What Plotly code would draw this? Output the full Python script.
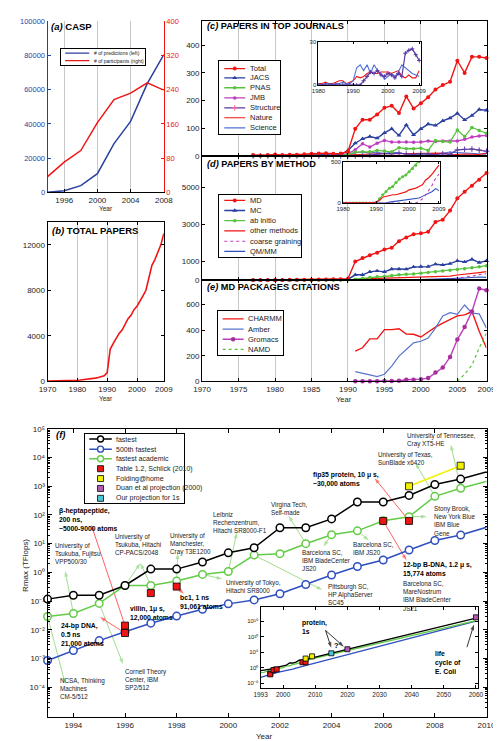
import math
import plotly.graph_objects as go

W, H = 501, 741
FONT = "Liberation Sans, Arial, Helvetica, sans-serif"

# ---------------- (a) CASP ----------------
casp_years = [1994, 1996, 1998, 2000, 2002, 2004, 2006, 2008]
casp_predictions = [100, 1000, 4000, 11000, 28500, 41500, 63500, 80500]
casp_participants = [37, 71, 98, 163, 217, 232, 256, 239]
casp_left_ticks = [0, 20000, 40000, 60000, 80000, 100000]
casp_right_ticks = [0, 80, 160, 240, 320, 400]
casp_xticks = [1996, 2000, 2004, 2008]

# ---------------- (b) total papers ----------------
total_years = list(range(1970, 2010))
total_papers = [10, 12, 15, 18, 22, 28, 35, 45, 55, 70,
                85, 100, 125, 150, 180, 220, 270, 330, 400, 480,
                750, 2800, 3300, 3800, 4200, 4500, 5000, 5500, 5800, 6300,
                6600, 7000, 7500, 8000, 9100, 10200, 10700, 11300, 12000, 13000]
total_xticks = [1970, 1980, 1990, 2000, 2009]
total_yticks = [0, 4000, 8000, 12000]

# ---------------- (c) papers in top journals ----------------
journal_years = list(range(1977, 2010))
journal_total = [3, 2, 3, 5, 3, 4, 4, 6, 8, 9, 10, 8, 9, 15,
                 98, 131, 131, 150, 174, 181, 155, 215, 171, 190, 212, 240, 256, 268, 344, 300, 358, 358, 354]
journal_jacs = [2, 1, 2, 2, 1, 2, 2, 3, 3, 4, 4, 3, 5, 20,
                46, 62, 70, 64, 83, 98, 74, 112, 76, 98, 115, 110, 127, 137, 154, 130, 146, 168, 165]
journal_pnas = [0, 0, 1, 0, 1, 1, 0, 1, 1, 2, 1, 2, 2, 5,
                14, 15, 15, 20, 18, 15, 30, 26, 26, 28, 20, 56, 52, 50, 94, 70, 103, 92, 82]
journal_jmb = [0, 1, 0, 1, 1, 0, 1, 1, 2, 1, 2, 2, 3, 8,
               22, 44, 32, 46, 56, 50, 50, 50, 49, 50, 54, 52, 54, 54, 54, 60, 68, 72, 74]
journal_structure = [0, 0, 0, 0, 0, 0, 0, 0, 0, 0, 0, 0, 0, 0,
                     0, 0, 3, 6, 9, 8, 10, 7, 6, 8, 7, 5, 8, 6, 22, 24, 25, 21, 17]
journal_nature = [1, 0, 2, 1, 1, 2, 1, 1, 2, 3, 3, 1, 2, 3,
                  6, 5, 6, 8, 9, 8, 8, 9, 9, 9, 8, 9, 10, 6, 5, 7, 5, 5, 10]
journal_science = [0, 0, 1, 0, 0, 1, 1, 0, 1, 1, 2, 1, 1, 3,
                   12, 14, 10, 14, 8, 14, 10, 8, 4, 6, 8, 6, 9, 14, 12, 10, 8, 7, 6]
journal_labels = ["Total", "JACS", "PNAS", "JMB", "Structure", "Nature", "Science"]
journal_yticks = [0, 100, 200, 300, 400]

# ---------------- (d) papers by method ----------------
method_years = list(range(1977, 2010))
method_md = [5, 8, 10, 12, 15, 18, 20, 25, 30, 35, 40, 45, 50, 80,
             1000, 1190, 1340, 1480, 1650, 1750, 2100, 2300, 2470, 2520, 2600, 3130, 3250, 3740, 4400, 4750, 5080, 5400, 5760]
method_mc = [2, 3, 4, 5, 6, 8, 10, 12, 14, 16, 18, 20, 25, 40,
             290, 290, 450, 500, 450, 600, 600, 590, 710, 730, 730, 860, 820, 890, 1040, 980, 1120, 950, 1040]
method_abinitio = [0, 0, 0, 0, 0, 0, 0, 0, 0, 0, 0, 0, 0, 5,
                   50, 100, 140, 180, 200, 250, 290, 320, 340, 380, 420, 460, 500, 530, 580, 620, 670, 720, 780]
other_years = list(range(1980, 2010))
method_other = [0, 0, 0, 1, 1, 2, 2, 3, 4, 5,
                10, 30, 70, 80, 90, 100, 100, 110, 120, 135,
                160, 170, 180, 200, 220, 280, 310, 355, 410, 460]
method_coarse = [0, 0, 0, 0, 0, 0, 0, 0, 0, 0,
                 0, 0, 0, 0, 0, 0, 0, 0, 0, 0,
                 0, 0, 0, 20, 50, 100, 160, 220, 300, 350]
method_qmmm = [0, 0, 0, 0, 0, 0, 0, 0, 0, 0,
               0, 0, 0, 0, 10, 15, 20, 25, 30, 35,
               40, 50, 55, 60, 80, 100, 120, 140, 175, 150]
method_labels = ["MD", "MC", "ab initio", "other methods", "coarse graining", "QM/MM"]
method_yticks = [0, 1000, 3000, 5000]

# ---------------- (e) MD packages citations ----------------
pkg_years = list(range(1991, 2010))
pkg_charmm = [236, 262, 331, 331, 403, 403, 410, 369, 367, 346, 385, 423, 454, 485, 510, 518, 544, 390, 260]
pkg_amber = [77, 62, 51, 38, 56, 120, 197, 249, 300, 313, 338, 415, 510, 536, 523, 595, 531, 526, 415]
pkg_gromacs = [2, 2, 2, 2, 3, 4, 5, 13, 13, 18, 26, 69, 108, 190, 326, 423, 544, 723, 710]
namd_years = [2005, 2006, 2007, 2008, 2009]
pkg_namd = [0, 56, 126, 262, 377]
pkg_labels = ["CHARMM", "Amber", "Gromacs", "NAMD"]
pkg_yticks = [0, 200, 400, 600]
cde_xticks = [1970, 1975, 1980, 1985, 1990, 1995, 2000, 2005, 2009]

# ---------------- (f) supercomputers ----------------
f_years = list(range(1993, 2010))
f_fastest = [0.117, 0.16, 0.16, 0.35, 1.3, 1.3, 2.3, 4.8, 7.2, 36, 36, 73, 284, 284, 480, 1150, 1780]
f_500th = [0.00085, 0.0019, 0.0042, 0.0085, 0.017, 0.03, 0.052, 0.08, 0.11, 0.18, 0.38, 0.81, 1.6, 2.7, 6.0, 12.9, 20]
f_academic = [0.029, 0.037, 0.083, 0.35, 0.35, 0.5, 0.85, 1.07, 4.0, 4.5, 10, 20.6, 28, 63, 87, 447, 855]
proj_years = [2009, 2060]
proj_fastest = [1780, 1.0e16]
proj_500th = [20, 1.2e15]
proj_academic = [855, 1.6e15]
schlick_years = [1996, 1996, 1997, 1998, 2006, 2007]
schlick_vals = [0.014, 0.0077, 0.19, 0.32, 62, 62]
fah_years = [2007, 2009]
fah_vals = [1000, 5200]
duan_years = [2020, 2060]
duan_vals = [1.0e6, 2.0e16]
ours_years = [2015]
ours_vals = [5.0e4]
f_xticks = [1994, 1996, 1998, 2000, 2002, 2004, 2006, 2008, 2010]
f_ytick_vals = [1e-4, 1e-3, 1e-2, 1e-1, 1, 10, 100, 1e3, 1e4, 1e5]
f_ytick_text = ["10\u207b\u2074", "10\u207b\u00b3", "10\u207b\u00b2", "10\u207b\u00b9", "10\u2070",
                "10\u00b9", "10\u00b2", "10\u00b3", "10\u2074", "10\u2075"]
inset_xticks = [1993, 2000, 2010, 2020, 2030, 2040, 2050, 2060]
inset_ytick_vals = [1e-5, 1, 1e5, 1e10, 1e15]
inset_ytick_text = ["10\u207b\u2075", "10\u2070", "10\u2075", "10\u00b9\u2070", "10\u00b9\u2075"]
f_labels = ["fastest", "500th fastest", "fastest academic", "Table 1.2, Schlick (2010)",
            "Folding@home", "Duan et al projection (2000)", "Our projection for 1s"]

# ---------------- colours ----------------
RED = "#f01515"
BLUE = "#2b3f9f"
GREEN = "#58c23c"
MAGENTA = "#c03cbf"
PURPLE = "#5a3aa5"
SCI = "#5070d8"
AMBER = "#5a74cc"
F_BLUE = "#2f4fbf"
F_GREEN = "#62cc46"
YELLOW = "#f2f200"
CYAN = "#4cc6d6"
DUAN = "#b65cb0"
GRID = "#c8c8c8"
ARROW_G = "#86d670"
ARROW_R = "#ff3a3a"
TXT = "#222222"


def xd(a, b):
    return [a / W, b / W]


def yd(top, bottom):
    return [1 - bottom / H, 1 - top / H]


def PX(x):
    return x / W


def PY(y):
    return 1 - y / H


fig = go.Figure()
ann = []


def sc(x, y, xa, ya, clip=False, **kw):
    fig.add_trace(go.Scatter(x=x, y=y, xaxis=xa, yaxis=ya, showlegend=False,
                             hoverinfo="skip", cliponaxis=clip, **kw))


def axis(**kw):
    d = dict(showline=True, linecolor="black", linewidth=1, mirror="ticks",
             ticks="inside", ticklen=3, tickwidth=1, tickcolor="black",
             tickfont=dict(size=8, family=FONT, color=TXT),
             showgrid=False, zeroline=False, fixedrange=True)
    d.update(kw)
    return d


def leg_axis(dom, rng):
    return dict(domain=dom, range=rng, showline=True, mirror=True, linecolor="black",
                linewidth=1, ticks="", showticklabels=False, showgrid=False,
                zeroline=False, fixedrange=True)


# ---------------- traces: (a) ----------------
sc(casp_years, casp_predictions, "x", "y", mode="lines", line=dict(color=BLUE, width=1.5))
sc(casp_years, casp_participants, "x", "y2", mode="lines", line=dict(color=RED, width=1.5))

# ---------------- (b) ----------------
sc(total_years, total_papers, "x3", "y3", mode="lines", line=dict(color=RED, width=1.6))

# ---------------- (c) ----------------
sc(journal_years, journal_science, "x4", "y4", mode="lines", line=dict(color=SCI, width=1.1))
sc(journal_years, journal_nature, "x4", "y4", mode="lines", line=dict(color=RED, width=1.1))
sc(journal_years, journal_structure, "x4", "y4", mode="lines+markers", line=dict(color=PURPLE, width=1.2),
   marker=dict(symbol="cross-thin-open", size=4, line=dict(color=PURPLE, width=1)))
sc(journal_years, journal_jmb, "x4", "y4", mode="lines+markers", line=dict(color=MAGENTA, width=1.3),
   marker=dict(symbol="circle", size=3.5, color=MAGENTA))
sc(journal_years, journal_pnas, "x4", "y4", mode="lines+markers", line=dict(color=GREEN, width=1.3),
   marker=dict(symbol="circle", size=3.5, color=GREEN))
sc(journal_years, journal_jacs, "x4", "y4", mode="lines+markers", line=dict(color=BLUE, width=1.4),
   marker=dict(symbol="triangle-up", size=4.5, color=BLUE))
sc(journal_years, journal_total, "x4", "y4", mode="lines+markers", line=dict(color=RED, width=1.4),
   marker=dict(symbol="circle", size=4, color=RED))

# inset (c)
sc(journal_years, journal_nature, "x7", "y7", clip=True, mode="lines", line=dict(color=RED, width=1.1))
sc(journal_years, journal_science, "x7", "y7", clip=True, mode="lines", line=dict(color=SCI, width=1.1))
sc(journal_years, journal_structure, "x7", "y7", clip=True, mode="lines+markers", line=dict(color=PURPLE, width=1.2),
   marker=dict(symbol="cross-thin-open", size=3, line=dict(color=PURPLE, width=1)))

# ---------------- (d) ----------------
sc(other_years, method_qmmm, "x5", "y5", mode="lines", line=dict(color=F_BLUE, width=1.1))
sc(other_years, method_coarse, "x5", "y5", mode="lines", line=dict(color=MAGENTA, width=1.1, dash="dot"))
sc(other_years, method_other, "x5", "y5", mode="lines", line=dict(color=RED, width=1.2))
sc(method_years, method_abinitio, "x5", "y5", mode="lines+markers", line=dict(color=GREEN, width=1.3),
   marker=dict(symbol="circle", size=3.5, color=GREEN))
sc(method_years, method_mc, "x5", "y5", mode="lines+markers", line=dict(color=BLUE, width=1.4),
   marker=dict(symbol="triangle-up", size=4.5, color=BLUE))
sc(method_years, method_md, "x5", "y5", mode="lines+markers", line=dict(color=RED, width=1.4),
   marker=dict(symbol="circle", size=4, color=RED))

# inset (d)
sc(method_years, method_abinitio, "x8", "y8", clip=True, mode="lines+markers", line=dict(color=GREEN, width=1.2),
   marker=dict(symbol="circle", size=3, color=GREEN))
sc(other_years, method_qmmm, "x8", "y8", clip=True, mode="lines", line=dict(color=F_BLUE, width=1.1))
sc(other_years, method_coarse, "x8", "y8", clip=True, mode="lines", line=dict(color=MAGENTA, width=1.1, dash="dot"))
sc(other_years, method_other, "x8", "y8", clip=True, mode="lines", line=dict(color=RED, width=1.2))

# ---------------- (e) ----------------
sc(pkg_years, pkg_charmm, "x6", "y6", mode="lines", line=dict(color=RED, width=1.4))
sc(pkg_years, pkg_amber, "x6", "y6", mode="lines", line=dict(color=AMBER, width=1.2))
sc(namd_years, pkg_namd, "x6", "y6", mode="lines", line=dict(color=GREEN, width=1.2, dash="dot"))
sc(pkg_years, pkg_gromacs, "x6", "y6", mode="lines+markers", line=dict(color=MAGENTA, width=1.4),
   marker=dict(symbol="circle", size=4.5, color="#a8309e"))

# ---------------- (f) ----------------
F_L, F_R, F_T, F_B = 31.7, 487.0, 422.0, 714.0
F_XR = (1993, 2010)
F_YR = (-5.05, 5.0)
I_L, I_R, I_T, I_B = 252.7, 477.7, 602.7, 684.3
I_XR = (1993, 2060.5)
I_YR = (-6.5, 19.5)


def open_c(col):
    return dict(symbol="circle", size=7.5, color="white", line=dict(color=col, width=1.5))


def sq(col, s=7):
    return dict(symbol="square", size=s, color=col, line=dict(color="black", width=0.8))


# arrows (drawn below the marks): head near a label, tail on a data point
def to_data(xp, yp, L, R, T, B, XR, YR):
    return (XR[0] + (xp - L) / (R - L) * (XR[1] - XR[0]),
            10 ** (YR[1] - (yp - T) / (B - T) * (YR[1] - YR[0])))


def arrow(xa, ya, tail, head, color):
    sc([tail[0], head[0]], [tail[1], head[1]], xa, ya, clip=False, mode="lines+markers",
       line=dict(color=color, width=0.8),
       marker=dict(symbol="arrow", size=[0, 6], angleref="previous", color=color,
                   line=dict(width=0)))


green_arrows = [((50, 680), 1993), ((50, 566), 1994), ((110, 660), 1995), ((128, 558), 1996),
                ((128, 558), 1997), ((166.7, 548), 1998), ((213, 574), 1999), ((228, 527), 2000),
                ((316.7, 585), 2001), ((281.7, 510), 2003), ((318, 541), 2004), ((365, 535), 2005),
                ((425, 510.7), 2007), ((413.3, 456.7), 2008), ((450, 438), 2009)]
for head, yr in green_arrows:
    i = f_years.index(yr)
    arrow("x9", "y9", (f_years[i], f_academic[i]),
          to_data(head[0], head[1], F_L, F_R, F_T, F_B, F_XR, F_YR), ARROW_G)

red_arrows = [((77, 519), 0), ((86, 612.5), 1), ((173, 589), 3), ((371, 472), 5), ((404, 555), 4)]
for head, i in red_arrows:
    arrow("x9", "y9", (schlick_years[i], schlick_vals[i]),
          to_data(head[0], head[1], F_L, F_R, F_T, F_B, F_XR, F_YR), ARROW_R)

sc(proj_years, proj_500th, "x9", "y9", clip=True, mode="lines", line=dict(color=F_BLUE, width=1.5))
sc(proj_years, proj_academic, "x9", "y9", clip=True, mode="lines", line=dict(color=F_GREEN, width=1.5))
sc(proj_years, proj_fastest, "x9", "y9", clip=True, mode="lines", line=dict(color="black", width=1.5))
sc(f_years, f_500th, "x9", "y9", mode="lines+markers", line=dict(color=F_BLUE, width=1.5), marker=open_c(F_BLUE))
sc(f_years, f_academic, "x9", "y9", mode="lines+markers", line=dict(color=F_GREEN, width=1.5), marker=open_c(F_GREEN))
sc(f_years, f_fastest, "x9", "y9", mode="lines+markers", line=dict(color="black", width=1.5), marker=open_c("black"))
sc(fah_years, fah_vals, "x9", "y9", mode="lines+markers", line=dict(color=YELLOW, width=1.5), marker=sq(YELLOW))
sc(schlick_years, schlick_vals, "x9", "y9", mode="markers", marker=sq(RED))

# inset (f)
sc(f_years + proj_years[1:], f_500th + proj_500th[1:], "x10", "y10", clip=True, mode="lines", line=dict(color=F_BLUE, width=1.3))
sc(f_years + proj_years[1:], f_academic + proj_academic[1:], "x10", "y10", clip=True, mode="lines", line=dict(color=F_GREEN, width=1.3))
sc(f_years + proj_years[1:], f_fastest + proj_fastest[1:], "x10", "y10", clip=True, mode="lines", line=dict(color="black", width=1.3))
sc(schlick_years, schlick_vals, "x10", "y10", mode="markers", marker=sq(RED, 5))
sc(fah_years, fah_vals, "x10", "y10", mode="markers", marker=sq(YELLOW, 5))
inset_arrows = [((320, 626), (326, 643.5)), ((320, 626), (339, 642.5)), ((466.7, 643), (474, 620))]
for tail, head in inset_arrows:
    arrow("x10", "y10", to_data(tail[0], tail[1], I_L, I_R, I_T, I_B, I_XR, I_YR),
          to_data(head[0], head[1], I_L, I_R, I_T, I_B, I_XR, I_YR), "black")
sc(ours_years, ours_vals, "x10", "y10", mode="markers", marker=sq(CYAN, 5))
sc(duan_years, duan_vals, "x10", "y10", mode="markers", marker=sq(DUAN, 5))


# ---------------- legends (mini boxes) ----------------
def leg_line(ax, x0, x1, y, text, color, tx, fs=7.5, width=1.3, dash="solid", marker=None):
    if color is not None:
        sc([x0, x1], [y, y], "x" + ax, "y" + ax, clip=True, mode="lines",
           line=dict(color=color, width=width, dash=dash))
    if marker is not None:
        sc([(x0 + x1) / 2], [y], "x" + ax, "y" + ax, mode="markers", marker=marker)
    ann.append(dict(xref="x" + ax, yref="y" + ax, x=tx, y=y, text=text, showarrow=False,
                    xanchor="left", yanchor="middle", font=dict(size=fs, family=FONT, color=TXT)))


# (a) legend
leg_line("11", 4.3, 29.3, 4.4, "# of predictions (left)", BLUE, 32, fs=5, width=1.2)
leg_line("11", 4.3, 29.3, 12.0, "# of participants (right)", RED, 32, fs=5, width=1.2)

# (c) legend
c_y = [7.3, 16.7, 26.7, 37.0, 47.0, 57.0, 67.3]
leg_line("12", 5, 26.7, c_y[0], journal_labels[0], RED, 30, width=1.4, marker=dict(symbol="circle", size=4, color=RED))
leg_line("12", 5, 26.7, c_y[1], journal_labels[1], BLUE, 30, width=1.4, marker=dict(symbol="triangle-up", size=4.5, color=BLUE))
leg_line("12", 5, 26.7, c_y[2], journal_labels[2], GREEN, 30, marker=dict(symbol="circle", size=3.5, color=GREEN))
leg_line("12", 5, 26.7, c_y[3], journal_labels[3], MAGENTA, 30, marker=dict(symbol="circle", size=3.5, color=MAGENTA))
leg_line("12", 5, 26.7, c_y[4], journal_labels[4], PURPLE, 30,
         marker=dict(symbol="cross-thin-open", size=4, line=dict(color=PURPLE, width=1)))
leg_line("12", 5, 26.7, c_y[5], journal_labels[5], RED, 30, width=1.1)
leg_line("12", 5, 26.7, c_y[6], journal_labels[6], SCI, 30, width=1.1)

# (d) legend
d_y = [5.7, 16.0, 26.2, 36.6, 47.0, 57.3]
leg_line("13", 5, 26.7, d_y[0], method_labels[0], RED, 30, width=1.4, marker=dict(symbol="circle", size=4, color=RED))
leg_line("13", 5, 26.7, d_y[1], method_labels[1], BLUE, 30, width=1.4, marker=dict(symbol="triangle-up", size=4.5, color=BLUE))
leg_line("13", 5, 26.7, d_y[2], method_labels[2], GREEN, 30, marker=dict(symbol="circle", size=3.5, color=GREEN))
leg_line("13", 5, 26.7, d_y[3], method_labels[3], RED, 30, width=1.2)
leg_line("13", 5, 26.7, d_y[4], method_labels[4], MAGENTA, 30, width=1.1, dash="dot")
leg_line("13", 5, 26.7, d_y[5], method_labels[5], F_BLUE, 30, width=1.1)

# (e) legend
e_y = [8.0, 18.3, 28.6, 38.9]
leg_line("14", 5, 26.7, e_y[0], pkg_labels[0], RED, 29.4, width=1.4)
leg_line("14", 5, 26.7, e_y[1], pkg_labels[1], AMBER, 29.4, width=1.2)
leg_line("14", 5, 26.7, e_y[2], pkg_labels[2], MAGENTA, 29.4, width=1.4, marker=dict(symbol="circle", size=4.5, color="#a8309e"))
leg_line("14", 5, 26.7, e_y[3], pkg_labels[3], GREEN, 29.4, width=1.2, dash="dot")

# (f) legend
f_y = [5.0, 15.2, 25.0, 35.0, 45.0, 55.0, 65.0]
leg_line("15", 4, 27.3, f_y[0], f_labels[0], "black", 30, fs=7, width=1.5, marker=dict(symbol="circle", size=6, color="white", line=dict(color="black", width=1.4)))
leg_line("15", 4, 27.3, f_y[1], f_labels[1], F_BLUE, 30, fs=7, width=1.5, marker=dict(symbol="circle", size=6, color="white", line=dict(color=F_BLUE, width=1.4)))
leg_line("15", 4, 27.3, f_y[2], f_labels[2], F_GREEN, 30, fs=7, width=1.5, marker=dict(symbol="circle", size=6, color="white", line=dict(color=F_GREEN, width=1.4)))
leg_line("15", 4, 27.3, f_y[3], f_labels[3], None, 30, fs=7, marker=sq(RED, 6))
leg_line("15", 4, 27.3, f_y[4], f_labels[4], None, 30, fs=7, marker=sq(YELLOW, 6))
leg_line("15", 4, 27.3, f_y[5], f_labels[5], None, 30, fs=7, marker=sq(DUAN, 6))
leg_line("15", 4, 27.3, f_y[6], f_labels[6], None, 30, fs=7, marker=sq(CYAN, 6))


# ---------------- text helpers ----------------
def text_px(x, y, text, size=7, color=TXT, xanchor="left", yanchor="top", angle=0):
    ann.append(dict(xref="paper", yref="paper", x=PX(x), y=PY(y), text=text, showarrow=False,
                    xanchor=xanchor, yanchor=yanchor, align="left", textangle=angle,
                    font=dict(size=size, family=FONT, color=color)))


# panel titles
text_px(33, 15, "<b><i>(a)</i> CASP</b>", size=9.5, color="black", yanchor="middle")
text_px(34, 221.5, "<b><i>(b)</i> TOTAL PAPERS</b>", size=9.5, color="black", yanchor="middle")
text_px(195, 14, "<b><i>(c)</i> PAPERS IN TOP JOURNALS</b>", size=9.2, color="black", yanchor="middle")
text_px(195, 153.5, "<b><i>(d)</i> PAPERS BY METHOD</b>", size=9.2, color="black", yanchor="middle")
text_px(195, 278.5, "<b><i>(e)</i> MD PACKAGES CITATIONS</b>", size=9.2, color="black", yanchor="middle")
text_px(38, 427.5, "<b><i>(f)</i></b>", size=9.5, color="black", yanchor="middle")

# axis titles
text_px(92, 199, "Year", size=6.5, xanchor="center", yanchor="middle")
text_px(92, 391, "Year", size=6.5, xanchor="center", yanchor="middle")
text_px(339.5, 392, "Year", size=7.5, xanchor="center", yanchor="middle")
text_px(257, 733, "Year", size=8, xanchor="center", yanchor="middle")
text_px(9, 560, "Rmax (TFlops)", size=8, xanchor="center", yanchor="middle", angle=-90)

# panel (f) labels
BOLD_FS = 6.8
REG_FS = 6.3
f_texts = [
    ("<b>β-heptapeptide,<br>200 ns,<br>~5000-9000 atoms</b>", 41.7, 499.5, BOLD_FS, "black"),
    ("University of<br>Tsukuba, Hitachi<br>CP-PACS/2048", 99.3, 525.5, REG_FS, TXT),
    ("University of<br>Manchester,<br>Cray T3E1200", 156.7, 524.5, REG_FS, TXT),
    ("Leibniz<br>Rechenzentrum,<br>Hitachi SR8000-F1", 201.7, 503, REG_FS, TXT),
    ("University of<br>Tsukuba, Fujitsu<br>VPP500/30", 37.7, 534.5, REG_FS, TXT),
    ("University of Tokyo,<br>Hitachi SR8000", 215, 571.5, REG_FS, TXT),
    ("<b>villin, 1μ s,<br>12,000 atoms</b>", 115, 598, BOLD_FS, "black"),
    ("<b>bc1, 1 ns<br>91,061 atoms</b>", 166.7, 587.5, BOLD_FS, "black"),
    ("<b>24-bp DNA,<br>0.5 ns<br>21,000 atoms</b>", 43.3, 615, BOLD_FS, "black"),
    ("NCSA, Thinking<br>Machines<br>CM-5/512", 42.3, 671, REG_FS, TXT),
    ("Cornell Theory<br>Center, IBM<br>SP2/512", 110, 662.5, REG_FS, TXT),
    ("University of Tennessee,<br>Cray XT5-HE", 402.7, 423, REG_FS, TXT),
    ("University of Texas,<br>SunBlade x6420", 372.7, 442, REG_FS, TXT),
    ("<b>fip35 protein, 10 μ s,<br>~30,000 atoms</b>", 305, 462.5, BOLD_FS, "black"),
    ("Virgina Tech,<br>Self-made", 261, 492.5, REG_FS, TXT),
    ("Stony Brook,<br>New York Blue<br>IBM Blue<br>Gene", 430, 497.5, REG_FS, TXT),
    ("Barcelona SC,<br>IBM JS20", 346.7, 533, REG_FS, TXT),
    ("Barcelona SC,<br>IBM BladeCenter<br>JS20", 293.3, 541.5, REG_FS, TXT),
    ("<b>12-bp B-DNA, 1.2 μ s,<br>15,774 atoms</b>", 398.3, 554, BOLD_FS, "black"),
    ("Barcelona SC,<br>MareNostrum<br>IBM BladeCenter<br>JS21", 398.3, 572.5, REG_FS, TXT),
    ("Pittsburgh SC,<br>HP AlphaServer<br>SC45", 321, 576, REG_FS, TXT),
    ("<b>protein,<br>1s</b>", 293.3, 612.5, BOLD_FS, "black"),
    ("<b>?</b>", 327, 634.5, 7.5, "black"),
    ("<b>life<br>cycle of<br>E. Coli</b>", 431.7, 644, BOLD_FS, "black"),
]
for t, x, y, s, c in f_texts:
    text_px(x, y, t, size=s, color=c)

# minor ticks of the log axis in (f): 2..9 x 10^k
f_minor = [m * 10.0 ** k for k in range(-6, 5) for m in range(2, 10)]

# ---------------- layout ----------------
layout = dict(
    width=W, height=H, margin=dict(l=0, r=0, t=0, b=0),
    paper_bgcolor="white", plot_bgcolor="white", showlegend=False, hovermode=False,
    font=dict(family=FONT, size=8, color=TXT),
    # (a)
    xaxis=axis(domain=xd(31.7, 152.3), range=[1994, 2008], tickvals=casp_xticks, showgrid=True,
               gridcolor=GRID, anchor="y", mirror=False),
    yaxis=axis(domain=yd(9.3, 182.7), range=[0, 100000], tickvals=casp_left_ticks, tickformat="d",
               linecolor=BLUE, tickcolor=BLUE, mirror=False, anchor="x",
               tickfont=dict(size=7.5, family=FONT, color=BLUE)),
    yaxis2=axis(overlaying="y", side="right", anchor="x", range=[0, 400], tickvals=casp_right_ticks,
                linecolor=RED, tickcolor=RED, mirror=False,
                tickfont=dict(size=7.5, family=FONT, color=RED)),
    # (b)
    xaxis3=axis(domain=xd(31.7, 152.3), range=[1970, 2009], tickvals=total_xticks, showgrid=True,
                gridcolor=GRID, anchor="y3"),
    yaxis3=axis(domain=yd(212.7, 373.7), range=[0, 14000], tickvals=total_yticks, tickformat="d",
                anchor="x3"),
    # (c)
    xaxis4=axis(domain=xd(192, 487), range=[1970, 2009], tickvals=cde_xticks, showticklabels=False,
                showgrid=True, gridcolor=GRID, anchor="y4"),
    yaxis4=axis(domain=yd(9, 145.7), range=[0, 488], tickvals=journal_yticks, anchor="x4"),
    # (d)
    xaxis5=axis(domain=xd(192, 487), range=[1970, 2009], tickvals=cde_xticks, showticklabels=False,
                showgrid=True, gridcolor=GRID, anchor="y5"),
    yaxis5=axis(domain=yd(145.7, 271.5), range=[0, 6680], tickvals=method_yticks, anchor="x5"),
    # (e)
    xaxis6=axis(domain=xd(192, 487), range=[1970, 2009], tickvals=cde_xticks,
                showgrid=True, gridcolor=GRID, anchor="y6"),
    yaxis6=axis(domain=yd(271.5, 374), range=[0, 788], tickvals=pkg_yticks, anchor="x6"),
    # inset (c)
    xaxis7=axis(domain=xd(312.7, 419), range=[1980, 2009.5], tickvals=[1980, 1990, 2000, 2009],
                ticklen=2, tickfont=dict(size=6, family=FONT, color=TXT), anchor="y7"),
    yaxis7=axis(domain=yd(30, 74), range=[0, 30], tickvals=[0, 30], ticklen=2,
                tickfont=dict(size=6, family=FONT, color=TXT), anchor="x7"),
    # inset (d)
    xaxis8=axis(domain=xd(338.3, 439), range=[1980, 2009.4], tickvals=[1980, 1990, 2000, 2009],
                ticklen=2, tickfont=dict(size=6, family=FONT, color=TXT), anchor="y8"),
    yaxis8=axis(domain=yd(151.7, 193.3), range=[0, 500], tickvals=[0, 500], ticklen=2,
                tickfont=dict(size=6, family=FONT, color=TXT), anchor="x8"),
    # (f)
    xaxis9=axis(domain=xd(F_L, F_R), range=list(F_XR), tickvals=f_xticks, ticklen=4, anchor="y9"),
    yaxis9=axis(type="log", domain=yd(F_T, F_B), range=list(F_YR), tickvals=f_ytick_vals,
                ticktext=f_ytick_text, ticklen=4, anchor="x9",
                minor=dict(tickvals=f_minor, ticks="inside", ticklen=2, tickcolor="black", showgrid=False)),
    # inset (f)
    xaxis10=axis(domain=xd(I_L, I_R), range=list(I_XR), tickvals=inset_xticks, ticklen=3,
                 tickfont=dict(size=6.5, family=FONT, color=TXT), anchor="y10"),
    yaxis10=axis(type="log", domain=yd(I_T, I_B), range=list(I_YR), tickvals=inset_ytick_vals,
                 ticktext=inset_ytick_text, ticklen=3,
                 tickfont=dict(size=6, family=FONT, color=TXT), anchor="x10"),
    # legend boxes
    xaxis11=leg_axis(xd(45.7, 132.7), [0, 87]), yaxis11=leg_axis(yd(37.3, 54), [16.7, 0]),
    xaxis12=leg_axis(xd(210, 273.3), [0, 63.3]), yaxis12=leg_axis(yd(50, 124), [74, 0]),
    xaxis13=leg_axis(xd(210, 295), [0, 85]), yaxis13=leg_axis(yd(185, 248), [63, 0]),
    xaxis14=leg_axis(xd(208.3, 276), [0, 67.7]), yaxis14=leg_axis(yd(302.7, 347), [44.3, 0]),
    xaxis15=leg_axis(xd(71, 173.3), [0, 102.3]), yaxis15=leg_axis(yd(427.3, 497.3), [70, 0]),
    annotations=ann,
)
for k in ["11", "12", "13", "14", "15"]:
    layout["xaxis" + k]["anchor"] = "y" + k
    layout["yaxis" + k]["anchor"] = "x" + k

fig.update_layout(**layout)
fig.write_html("out.html")
